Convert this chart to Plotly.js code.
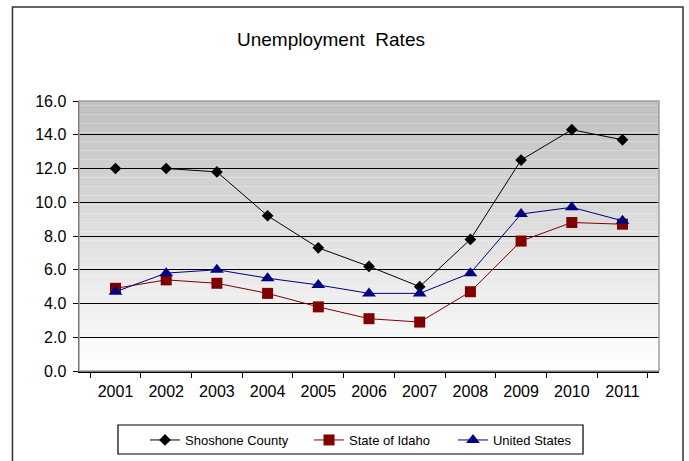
<!DOCTYPE html>
<html>
<head>
<meta charset="utf-8">
<script src="https://cdn.plot.ly/plotly-3.0.1.min.js"></script>
<style>html,body{margin:0;padding:0;background:#fff;}#chart{width:689px;height:461px;}</style>
</head>
<body>
<div id="chart"></div>
<script>
const years = ["2001","2002","2003","2004","2005","2006","2007","2008","2009","2010","2011"];
const shoshone = [12.0, 12.0, 11.8, 9.2, 7.3, 6.2, 5.0, 7.8, 12.5, 14.3, 13.7];
const idaho = [4.9, 5.4, 5.2, 4.6, 3.8, 3.1, 2.9, 4.7, 7.7, 8.8, 8.7];
const us = [4.7, 5.8, 6.0, 5.5, 5.1, 4.6, 4.6, 5.8, 9.3, 9.7, 8.9];
const yTicks = [0, 2, 4, 6, 8, 10, 12, 14, 16];

const font = "Liberation Sans, Arial, sans-serif";

const traces = [
  {x: years, y: shoshone, name: "Shoshone County", type: "scatter", mode: "lines+markers", legend: "legend",
   line: {color: "#000000", width: 1}, marker: {symbol: "diamond", size: 9, color: "#000000"}},
  {x: years, y: idaho, name: "State of Idaho", type: "scatter", mode: "lines+markers", legend: "legend2",
   line: {color: "#800000", width: 1}, marker: {symbol: "square", size: 11, color: "#800000"}},
  {x: years, y: us, name: "United States", type: "scatter", mode: "lines+markers", legend: "legend3",
   line: {color: "#000080", width: 1}, marker: {symbol: "triangle-up", size: 12, color: "#000080"}}
];

// gradient background for plot area
const shapes = [];
const N = 60;
for (let i = 0; i < N; i++) {
  const t = i / (N - 1);
  const v = Math.round(192 + (255 - 192) * t);
  shapes.push({type: "rect", xref: "paper", yref: "paper", layer: "below",
    x0: 0, x1: 1, y0: 1 - (i + 1) / N, y1: 1 - i / N,
    fillcolor: `rgb(${v},${v},${v})`, line: {width: 0}});
}
// plot area border (gray)
shapes.push({type: "rect", xref: "paper", yref: "paper", layer: "above",
  x0: 0, x1: 1, y0: 0, y1: 1, line: {color: "#a0a0a0", width: 1.5}, fillcolor: "rgba(0,0,0,0)"});
// outer chart border (left, top, right)
const bl = -0.1147, br = 1.0414, bt = 1.348, bb = -0.35;
shapes.push({type: "path", xref: "paper", yref: "paper", layer: "above",
  path: `M ${bl} ${bb} L ${bl} ${bt} L ${br} ${bt} L ${br} ${bb}`,
  line: {color: "#333333", width: 1.5}});
// legend frame
shapes.push({type: "rect", xref: "paper", yref: "paper", layer: "above",
  x0: 0.0672, x1: 0.869, y0: -0.3074, y1: -0.2,
  line: {color: "#000000", width: 1.2}, fillcolor: "rgba(0,0,0,0)"});

const legBase = {orientation: "h", xanchor: "left", y: -0.2556, yanchor: "middle",
  borderwidth: 0, bgcolor: "rgba(0,0,0,0)",
  font: {family: font, size: 13, color: "#000000"}};

const layout = {
  width: 689, height: 461,
  margin: {l: 79, r: 30, t: 101, b: 90, autoexpand: false},
  paper_bgcolor: "#ffffff",
  plot_bgcolor: "rgba(0,0,0,0)",
  font: {family: font, size: 16, color: "#000000"},
  showlegend: true,
  annotations: [{text: "Unemployment  Rates", xref: "paper", yref: "paper",
    x: 0.4345, y: 1.226, xanchor: "center", yanchor: "middle", showarrow: false,
    font: {family: font, size: 19, color: "#000000"}}],
  xaxis: {type: "category", showgrid: false, zeroline: false,
    showline: true, linecolor: "#000000", linewidth: 1.5,
    ticks: "outside", tickson: "boundaries", ticklen: 5, tickcolor: "#000000",
    ticklabelstandoff: 5,
    tickfont: {family: font, size: 16, color: "#000000"}},
  yaxis: {range: [0, 16], tickvals: yTicks, tickformat: ".1f",
    showgrid: true, gridcolor: "#000000", gridwidth: 1, zeroline: false,
    showline: true, linecolor: "#000000", linewidth: 1.5,
    ticks: "outside", ticklen: 5, tickcolor: "#000000",
    ticklabelstandoff: 3,
    tickfont: {family: font, size: 16, color: "#000000"}},
  legend: Object.assign({}, legBase, {x: 0.1138}),
  legend2: Object.assign({}, legBase, {x: 0.3966}),
  legend3: Object.assign({}, legBase, {x: 0.6448}),
  shapes: shapes
};

Plotly.newPlot("chart", traces, layout, {displayModeBar: false, staticPlot: true});
</script>
</body>
</html>
